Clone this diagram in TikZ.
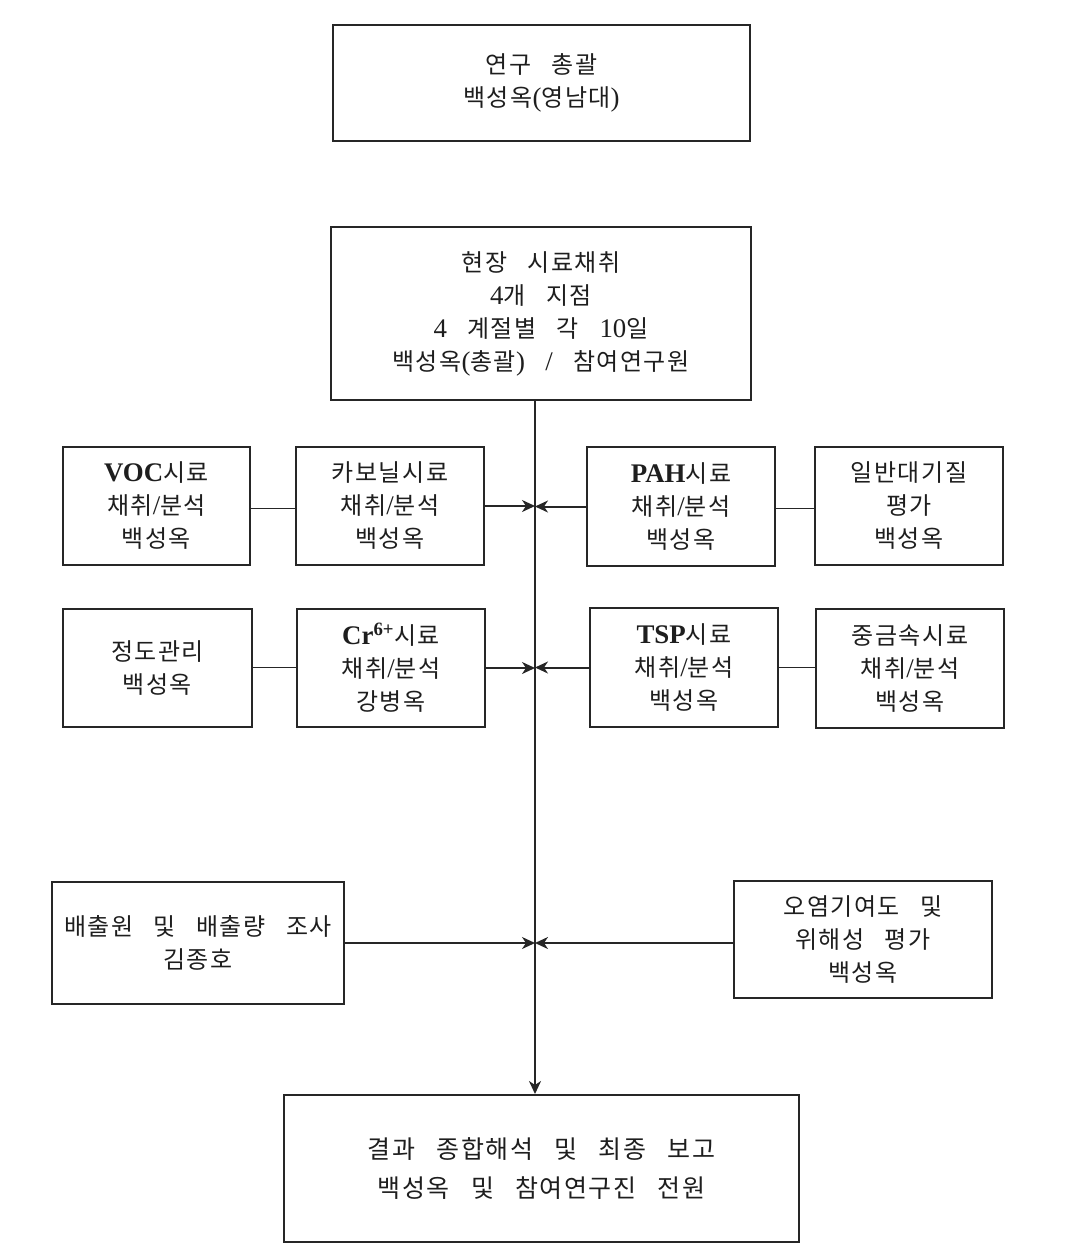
\documentclass[tikz,border=0pt]{standalone}
\usepackage{fontspec}
\setmainfont{Liberation Serif}[Scale=1.12]
\newfontfamily\krf{Noto Sans CJK KR}[LetterSpace=6,WordSpace=3]
\newcommand\K[1]{{\krf #1}}
\usetikzlibrary{arrows.meta}
\definecolor{boxc}{HTML}{262626}
\definecolor{txtc}{HTML}{1E1E1E}
\begin{document}
\begin{tikzpicture}[x=1pt,y=-1pt,
  box/.style={draw=boxc, line width=2pt, inner sep=0pt, align=center,
    text=txtc, font=\fontsize{24}{33}\selectfont},
  arr/.style={draw=boxc, line width=2pt, -{Stealth[length=13pt,width=12pt,inset=4pt]}},
  spineline/.style={draw=boxc, line width=2.6pt, -{Stealth[length=13pt,width=12pt,inset=4pt]}},
  link/.style={draw=boxc, line width=1pt}]
\useasboundingbox (0,0) rectangle (1082,1256);

\node[box, minimum width=417pt, minimum height=116pt] (top) at (541.5,83)
  {\K{연구 총괄}\\ \K{백성옥}(\K{영남대})};
\node[box, minimum width=420pt, minimum height=173pt] (field) at (541,313.5)
  {\K{현장 시료채취}\\ 4\K{개 지점}\\ 4\K{ 계절별 각 }10\K{일}\\ \K{백성옥}(\K{총괄})\K{ }/\K{ 참여연구원}};

\node[box, minimum width=187pt, minimum height=118pt] (voc) at (156.5,506)
  {{\bfseries VOC}\K{시료}\\ \K{채취}/\K{분석}\\ \K{백성옥}};
\node[box, minimum width=188pt, minimum height=118pt] (carb) at (390,506)
  {\K{카보닐시료}\\ \K{채취}/\K{분석}\\ \K{백성옥}};
\node[box, minimum width=188pt, minimum height=119pt] (pah) at (681,506.5)
  {{\bfseries PAH}\K{시료}\\ \K{채취}/\K{분석}\\ \K{백성옥}};
\node[box, minimum width=188pt, minimum height=118pt] (gen) at (909,506)
  {\K{일반대기질}\\ \K{평가}\\ \K{백성옥}};

\node[box, minimum width=189pt, minimum height=118pt] (qc) at (157.5,668)
  {\K{정도관리}\\ \K{백성옥}};
\node[box, minimum width=188pt, minimum height=118pt] (cr) at (391,668)
  {{\bfseries Cr\textsuperscript{6+}}\K{시료}\\ \K{채취}/\K{분석}\\ \K{강병옥}};
\node[box, minimum width=188pt, minimum height=119pt] (tsp) at (684,667.5)
  {{\bfseries TSP}\K{시료}\\ \K{채취}/\K{분석}\\ \K{백성옥}};
\node[box, minimum width=188pt, minimum height=119pt] (metal) at (910,668.5)
  {\K{중금속시료}\\ \K{채취}/\K{분석}\\ \K{백성옥}};

\node[box, minimum width=292pt, minimum height=122pt] (emis) at (198,943)
  {\K{배출원 및 배출량 조사}\\ \K{김종호}};
\node[box, minimum width=258pt, minimum height=117pt] (contrib) at (863,939.5)
  {\K{오염기여도 및}\\ \K{위해성 평가}\\ \K{백성옥}};

\node[box, minimum width=515pt, minimum height=147pt, font=\fontsize{25}{39}\selectfont] (final) at (541.5,1168.5)
  {\K{결과 종합해석 및 최종 보고}\\ \K{백성옥 및 참여연구진 전원}};

\coordinate (spine) at (535,0);
\draw[spineline] (field.south -| spine) -- (final.north -| spine);

\draw[arr] (carb.east) -- (carb.east -| spine);
\draw[arr] (pah.west) -- (pah.west -| spine);
\draw[arr] (cr.east) -- (cr.east -| spine);
\draw[arr] (tsp.west) -- (tsp.west -| spine);
\draw[arr] (emis.east) -- (emis.east -| spine);
\draw[arr] (contrib.west |- emis.east) -- (emis.east -| spine);

\draw[link] ([yshift=-2pt]voc.east) -- ([yshift=-2pt]voc.east -| carb.west);
\draw[link] ([yshift=-2pt]pah.east) -- ([yshift=-2pt]pah.east -| gen.west);
\draw[link] ([yshift=1pt]qc.east) -- ([yshift=1pt]qc.east -| cr.west);
\draw[link] (tsp.east) -- (tsp.east -| metal.west);
\end{tikzpicture}
\end{document}
